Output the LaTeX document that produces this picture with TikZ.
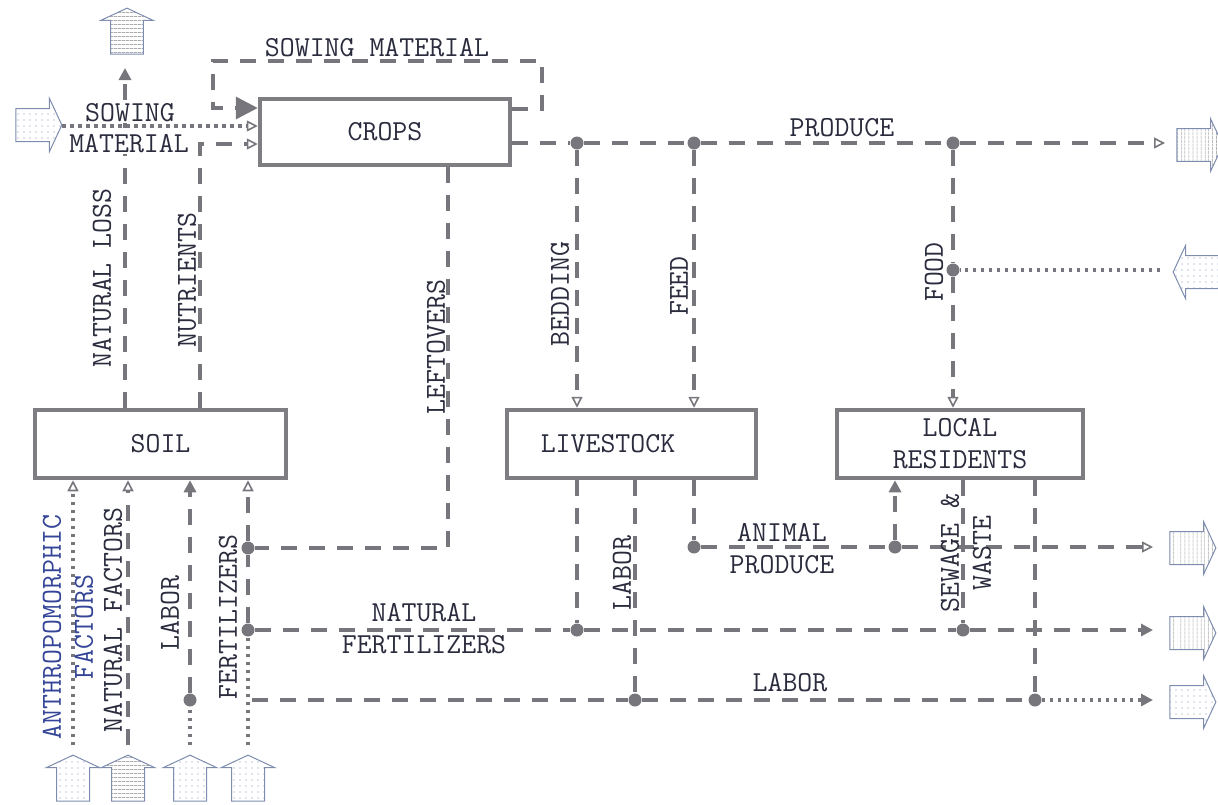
\documentclass[tikz,border=0pt]{standalone}
\usepackage{fontspec}
\setmonofont{Latin Modern Mono}
\usetikzlibrary{arrows.meta,patterns.meta,shapes.arrows}
\definecolor{ln}{RGB}{118,118,124}
\definecolor{bx}{RGB}{125,125,130}
\definecolor{tx}{RGB}{42,44,62}
\definecolor{blu}{RGB}{52,68,150}
\definecolor{ba}{RGB}{125,140,175}
\begin{document}
\begin{tikzpicture}[x=1pt,y=-1pt, font=\fontsize{29}{32}\selectfont\ttfamily, text=tx,
  box/.style={draw=bx, line width=4.5pt, inner sep=0pt, fill=white},
  dsh/.style={draw=ln, line width=3.5pt, dash pattern=on 16pt off 12pt},
  dtt/.style={draw=ln, line width=3.5pt, dash pattern=on 3.5pt off 4.5pt},
  jd/.style={circle, fill=ln, minimum size=13pt, inner sep=0pt},
  otip/.style={-{Triangle[open,length=11pt,width=11pt,line width=1.6pt]}},
  ftip/.style={-{Triangle[length=12pt,width=12pt]}},
  btip/.style={-{Triangle[length=22pt,width=22pt]}},
  lbl/.style={inner sep=1pt, align=center},
  vl/.style={lbl, rotate=90},
  ext/.style={single arrow, draw=ba, line width=1pt, minimum height=46pt,
    minimum width=0pt, inner xsep=0pt, inner ysep=16pt, outer sep=0pt,
    single arrow head extend=10pt, single arrow tip angle=130},
  exdots/.style={ext, pattern={Dots[distance=6pt, radius=0.7pt]}, pattern color=ba},
  exh/.style={ext, pattern={Lines[angle=0, distance=4pt, line width=0.8pt]}, pattern color=gray},
  exv/.style={ext, pattern={Lines[angle=90, distance=4pt, line width=0.8pt]}, pattern color=gray},
]
\useasboundingbox (0,0) rectangle (1218,804);

% boxes
\node[box, minimum width=250pt, minimum height=66pt] (crops) at (385,132) {CROPS};
\node[box, minimum width=251pt, minimum height=68pt] (soil) at (160.5,444) {SOIL};
\node[box, minimum width=249pt, minimum height=68pt] (liv) at (631.5,444) {LIVESTOCK\hspace*{47pt}};
\node[box, minimum width=246pt, minimum height=68pt, align=center] (lr) at (960,444) {LOCAL\\RESIDENTS};

% external block arrows
\node[exdots] (sowIn) at (35,125) {};
\node[exh, rotate=90] (lossOut) at (127,35) {};
\node[exv] (prodOut) at (1196,145) {};
\node[exdots, rotate=180] (foodIn) at (1200,272) {};
\node[exv] (apOut) at (1189,548) {};
\node[exv] (nfOut) at (1189,633) {};
\node[exdots] (labOut) at (1189,702) {};
\node[exdots, rotate=90] (anIn) at (73,782) {};
\node[exh, rotate=90] (natIn) at (128,782) {};
\node[exdots, rotate=90] (labIn) at (190,782) {};
\node[exdots, rotate=90] (ferIn) at (248,782) {};

% junctions
\node[jd] (jP1) at (577,143) {};
\node[jd] (jP2) at (694,143) {};
\node[jd] (jP3) at (953,143) {};
\node[jd] (jFood) at (953,270) {};
\node[jd] (jLeft) at (248,548) {};
\node[jd] (jNF) at (248,630) {};
\node[jd] (jNFliv) at (577,630) {};
\node[jd] (jNFlr) at (963,630) {};
\node[jd] (jAP) at (694,547) {};
\node[jd] (jAPlr) at (895,547) {};
\node[jd] (jLab1) at (190,700) {};
\node[jd] (jLabLiv) at (635,700) {};
\node[jd] (jLabLR) at (1035,700) {};

% free ends
\coordinate (pOut) at (1165,143);
\coordinate (foodS) at (1160,270);
\coordinate (apE) at (1153,547);
\coordinate (nfE) at (1153,630);
\coordinate (labE) at (1153,700);
\coordinate (labS) at (252,700);
\coordinate (lfc) at (448,548);
\coordinate (fertB) at (248,745);
\coordinate (labB) at (190,745);
\coordinate (anB) at (73,745);
\coordinate (nfB) at (128,745);
\coordinate (lossT) at (125,68);
\coordinate (nutC) at (200,144);
\coordinate (sowS) at (62,126);
\coordinate (lp1) at (542,109);
\coordinate (lp2) at (542,61);
\coordinate (lp3) at (213,61);
\coordinate (lp4) at (213,108);

% connectors
\draw[dsh, otip] (crops.east |- jP1) -- (jP1) -- (jP2) -- (jP3) -- (pOut);
\draw[dsh, otip] (jP1) -- (liv.north -| jP1);
\draw[dsh, otip] (jP2) -- (liv.north -| jP2);
\draw[dsh, otip] (jP3) -- (jFood) -- (lr.north -| jP3);
\draw[dtt] (foodS) -- (jFood);
\draw[dsh] (crops.south -| lfc) -- (lfc) -- (jLeft);
\draw[dtt] (fertB) -- (jNF);
\draw[dsh, otip] (jNF) -- (jLeft) -- (soil.south -| jLeft);
\draw[dsh, ftip] (jNF) -- (jNFliv) -- (jNFlr) -- (nfE);
\draw[dsh] (liv.south -| jNFliv) -- (jNFliv);
\draw[dsh] (liv.south -| jLabLiv) -- (jLabLiv);
\draw[dsh] (liv.south -| jAP) -- (jAP);
\draw[dsh, otip] (jAP) -- (jAPlr) -- (apE);
\draw[dsh, ftip] (jAPlr) -- (lr.south -| jAPlr);
\draw[dsh] (lr.south -| jNFlr) -- (jNFlr);
\draw[dsh] (lr.south -| jLabLR) -- (jLabLR);
\draw[dsh] (labS) -- (jLabLiv) -- (jLabLR);
\draw[dtt, ftip] (jLabLR) -- (labE);
\draw[dtt] (labB) -- (jLab1);
\draw[dsh, ftip] (jLab1) -- (soil.south -| jLab1);
\draw[dtt, otip] (anB) -- (soil.south -| anB);
\draw[dsh, otip] (nfB) -- (soil.south -| nfB);
\draw[dsh, ftip] (soil.north -| lossT) -- (lossT);
\draw[dsh, otip] (soil.north -| nutC) -- (nutC) -- (crops.west |- nutC);
\draw[dtt, otip] (sowS) -- (crops.west |- sowS);
\draw[dsh, btip] (crops.east |- lp1) -- (lp1) -- (lp2) -- (lp3) -- (lp4) -- (crops.west |- lp4);

% labels
\node[lbl] (tSowTop) at (377,48) {SOWING MATERIAL};
\node[lbl, fill=white] (tSow1) at (130,113) {SOWING};
\node[lbl, fill=white] (tSow2) at (129,144) {MATERIAL};
\node[lbl] (tProd) at (842,128) {PRODUCE};
\node[lbl] (tAP) at (782,549) {ANIMAL\\PRODUCE};
\node[lbl] (tNF) at (424,629) {NATURAL\\FERTILIZERS};
\node[lbl] (tLab) at (790,683) {LABOR};
\node[vl] (tLoss) at (102,278) {NATURAL LOSS};
\node[vl] (tNut) at (187,280) {NUTRIENTS};
\node[vl] (tLeft) at (436,347) {LEFTOVERS};
\node[vl] (tBed) at (560,294) {BEDDING};
\node[vl] (tFeed) at (679,286) {FEED};
\node[vl] (tFood) at (934,272) {FOOD};
\node[vl] (tLabL) at (622,573) {LABOR};
\node[vl] (tSew) at (966,553) {SEWAGE \&\\WASTE};
\node[vl, text=blu] (tAn) at (68,627) {ANTHROPOMORPHIC\\FACTORS};
\node[vl] (tNatF) at (113,620) {NATURAL FACTORS};
\node[vl] (tLabS) at (170,613) {LABOR};
\node[vl] (tFer) at (228,617) {FERTILIZERS};
\end{tikzpicture}
\end{document}
